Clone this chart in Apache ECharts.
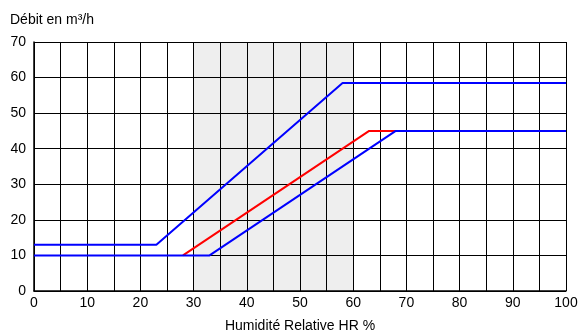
<!DOCTYPE html>
<html>
<head>
<meta charset="utf-8">
<script src="https://cdn.jsdelivr.net/npm/echarts@6/dist/echarts.min.js"></script>
<style>
  html, body { margin: 0; padding: 0; background: #fff; }
  #chart { width: 581px; height: 336px; }
</style>
</head>
<body>
<div id="chart"></div>
<script>
// courbes débit / humidité
var courbeHaute = [[0, 13], [23, 13], [58, 58.5], [100, 58.5]];
var courbeRouge = [[28, 10], [63, 45], [100, 45]];
var courbeBasse = [[0, 10], [33, 10], [68, 45], [100, 45]];
var zoneGrise = [30, 60];

var myChart = echarts.init(document.getElementById("chart"));
myChart.setOption({
  animation: false,
  textStyle: { fontFamily: "Liberation Sans, Arial, sans-serif" },
  title: {
    text: "Débit en m³/h",
    left: 5,
    top: 8,
    textStyle: { fontSize: 14, fontWeight: "normal", color: "#000" }
  },
  grid: { left: 34, right: 15, top: 42, bottom: 45, outerBoundsMode: "none", containLabel: false },
  xAxis: {
    type: "value",
    min: 0,
    max: 100,
    interval: 5,
    name: "Humidité Relative HR %",
    nameLocation: "middle",
    nameGap: 28,
    nameTextStyle: { fontSize: 14, color: "#000" },
    axisLine: { show: true, lineStyle: { color: "#000", width: 1.5 } },
    axisTick: { show: false },
    axisLabel: {
      fontSize: 14,
      color: "#000",
      margin: 5,
      formatter: function (v) { return v % 10 === 0 ? v : ""; }
    },
    splitLine: { show: true, lineStyle: { color: "#000", width: 1 } }
  },
  yAxis: {
    type: "value",
    min: 0,
    max: 70,
    interval: 10,
    axisLine: { show: true, lineStyle: { color: "#000", width: 1.5 } },
    axisTick: { show: false },
    axisLabel: { fontSize: 14, color: "#000", margin: 8 },
    splitLine: { show: true, lineStyle: { color: "#000", width: 1 } }
  },
  series: [
    {
      name: "rouge",
      type: "line",
      data: courbeRouge,
      symbol: "none",
      lineStyle: { color: "#ff0000", width: 2 },
      z: 3,
      markArea: {
        silent: true,
        itemStyle: { color: "#eeeeee" },
        data: [[{ xAxis: zoneGrise[0] }, { xAxis: zoneGrise[1] }]],
        z: -1
      }
    },
    {
      name: "haute",
      type: "line",
      data: courbeHaute,
      symbol: "none",
      lineStyle: { color: "#0000ff", width: 2 },
      z: 4
    },
    {
      name: "basse",
      type: "line",
      data: courbeBasse,
      symbol: "none",
      lineStyle: { color: "#0000ff", width: 2 },
      z: 4
    }
  ]
});
</script>
</body>
</html>
